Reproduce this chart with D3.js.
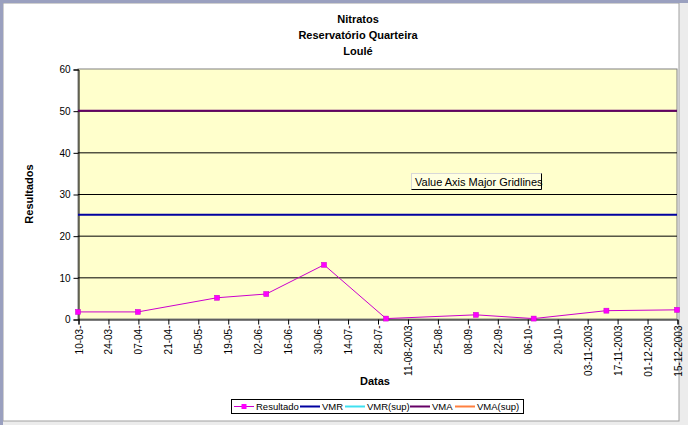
<!DOCTYPE html>
<html><head><meta charset="utf-8">
<script src="https://cdn.jsdelivr.net/npm/d3@7"></script>
<style>body{margin:0;background:#fff}svg{display:block}text{font-family:"Liberation Sans",Arial,sans-serif}</style>
</head><body>
<svg id="c" width="688" height="425"></svg>
<script>
const titleLines = ["Nitratos", "Reservatório Quarteira", "Loulé"];
const sampleDates = ["2003-03-10","2003-04-07","2003-05-14","2003-06-06","2003-07-03","2003-08-01","2003-09-12","2003-10-09","2003-11-12","2003-12-15"];
const resultado = [1.7, 1.7, 5.1, 6.0, 13.0, 0.1, 1.0, 0.1, 2.0, 2.2];
const vmr = 25;
const vma = 50;
const tickDates = ["2003-03-10","2003-03-24","2003-04-07","2003-04-21","2003-05-05","2003-05-19","2003-06-02","2003-06-16","2003-06-30","2003-07-14","2003-07-28","2003-08-11","2003-08-25","2003-09-08","2003-09-22","2003-10-06","2003-10-20","2003-11-03","2003-11-17","2003-12-01","2003-12-15"];
const tickLabels = ["10-03-","24-03-","07-04-","21-04-","05-05-","19-05-","02-06-","16-06-","30-06-","14-07-","28-07-","11-08-2003","25-08-","08-09-","22-09-","06-10-","20-10-","03-11-2003","17-11-2003","01-12-2003","15-12-2003"];
const yTicks = [0,10,20,30,40,50,60];
const legendItems = ["Resultado","VMR","VMR(sup)","VMA","VMA(sup)"];
const legendColors = ["#cc00cc","#0000a0","#40e0f0","#660066","#ff8040"];

const parse = d3.utcParse("%Y-%m-%d");
const svg = d3.select("#c");

// frame
svg.append("rect").attr("x",0).attr("y",0).attr("width",688).attr("height",425).attr("fill","#ececec");
svg.append("rect").attr("x",3).attr("y",3).attr("width",676).attr("height",418).attr("fill","#fff").attr("stroke","#a0a0a0").attr("stroke-width",1);
svg.append("rect").attr("x",0).attr("y",0).attr("width",688).attr("height",3).attr("fill","#9aa0bf");
svg.append("rect").attr("x",0).attr("y",0).attr("width",3).attr("height",425).attr("fill","#9aa0bf");

const L=78, R=677, T=69, B=319;
const x = d3.scaleUtc().domain([parse(tickDates[0]), parse(tickDates[tickDates.length-1])]).range([L,R]);
const y = d3.scaleLinear().domain([0,60]).range([B,T]);

// titles
svg.selectAll(".title").data(titleLines).join("text")
  .attr("x",358).attr("y",(d,i)=>23+i*16).attr("text-anchor","middle")
  .attr("font-size",11).attr("font-weight","bold").text(d=>d);

// plot bg
svg.append("rect").attr("x",L).attr("y",T).attr("width",R-L).attr("height",B-T).attr("fill","#ffffcc").attr("stroke","#808080");

// gridlines
svg.append("g").selectAll("line").data(yTicks.filter(v=>v>0 && v<60)).join("line")
  .attr("x1",L).attr("x2",R).attr("y1",d=>y(d)+0.5).attr("y2",d=>y(d)+0.5).attr("stroke","#000");

// y axis
const ya = svg.append("g").attr("transform",`translate(${L+0.5},0.5)`)
  .call(d3.axisLeft(y).tickValues(yTicks).tickSize(5).tickPadding(3));
ya.select(".domain").attr("stroke","#000");
ya.selectAll("text").attr("font-size",10).attr("font-family","Liberation Sans, Arial, sans-serif");

// x axis
const tickD = tickDates.map(parse);
const xa = svg.append("g").attr("transform",`translate(0.5,${B+0.5})`)
  .call(d3.axisBottom(x).tickValues(tickD).tickSize(5).tickFormat((d,i)=>tickLabels[i]));
xa.select(".domain").attr("stroke","#000");
xa.selectAll("text").attr("font-size",10).attr("font-family","Liberation Sans, Arial, sans-serif")
  .attr("transform","rotate(-90)").attr("text-anchor","end").attr("x",-6).attr("y",0).attr("dy","0.35em");

// reference lines
svg.append("line").attr("x1",L).attr("x2",R).attr("y1",y(vma)).attr("y2",y(vma)).attr("stroke","#660066").attr("stroke-width",2);
svg.append("line").attr("x1",L).attr("x2",R).attr("y1",y(vmr)).attr("y2",y(vmr)).attr("stroke","#0000a0").attr("stroke-width",2);

// series
const pts = sampleDates.map((d,i)=>({d:parse(d), v:resultado[i]}));
svg.append("path").datum(pts).attr("fill","none").attr("stroke","#cc00cc").attr("stroke-width",1)
  .attr("d", d3.line().x(p=>x(p.d)).y(p=>y(p.v)));
svg.append("g").selectAll("rect").data(pts).join("rect")
  .attr("x",p=>x(p.d)-2.5).attr("y",p=>y(p.v)-2.5).attr("width",5).attr("height",5).attr("fill","#ff00ff").attr("stroke","#cc00cc").attr("stroke-width",0.5);

// axis titles
svg.append("text").attr("x",375).attr("y",385).attr("text-anchor","middle").attr("font-size",11).attr("font-weight","bold").text("Datas");
svg.append("text").attr("transform","translate(33,194) rotate(-90)").attr("text-anchor","middle").attr("font-size",11).attr("font-weight","bold").text("Resultados");

// tooltip
const tt = svg.append("g").attr("transform","translate(411,173)");
tt.append("rect").attr("x",0.5).attr("y",0.5).attr("width",130).attr("height",16).attr("fill","#ffffe1").attr("stroke","#d8d8d8");
tt.append("path").attr("d","M130.5,0.5 V16.5 H0.5").attr("fill","none").attr("stroke","#000");
tt.append("text").attr("x",4).attr("y",12.5).attr("font-size",11).text("Value Axis Major Gridlines");

// legend
const lgTextX = [25, 91, 136, 201, 246];
const lg = svg.append("g").attr("transform","translate(231,399)");
lg.append("rect").attr("x",0.5).attr("y",0.5).attr("width",292).attr("height",14).attr("fill","#fff").attr("stroke","#000");
legendItems.forEach((name,i)=>{
  const tx = lgTextX[i];
  lg.append("line").attr("x1",tx-22).attr("x2",tx-2).attr("y1",7.5).attr("y2",7.5).attr("stroke",legendColors[i]).attr("stroke-width", i===0?1:2);
  if(i===0) lg.append("rect").attr("x",tx-14.5).attr("y",5).attr("width",5).attr("height",5).attr("fill","#ff00ff");
});
legendItems.forEach((name,i)=>{
  lg.append("text").attr("x",lgTextX[i]).attr("y",11).attr("font-size",9.5).text(name);
});
</script>
</body></html>
